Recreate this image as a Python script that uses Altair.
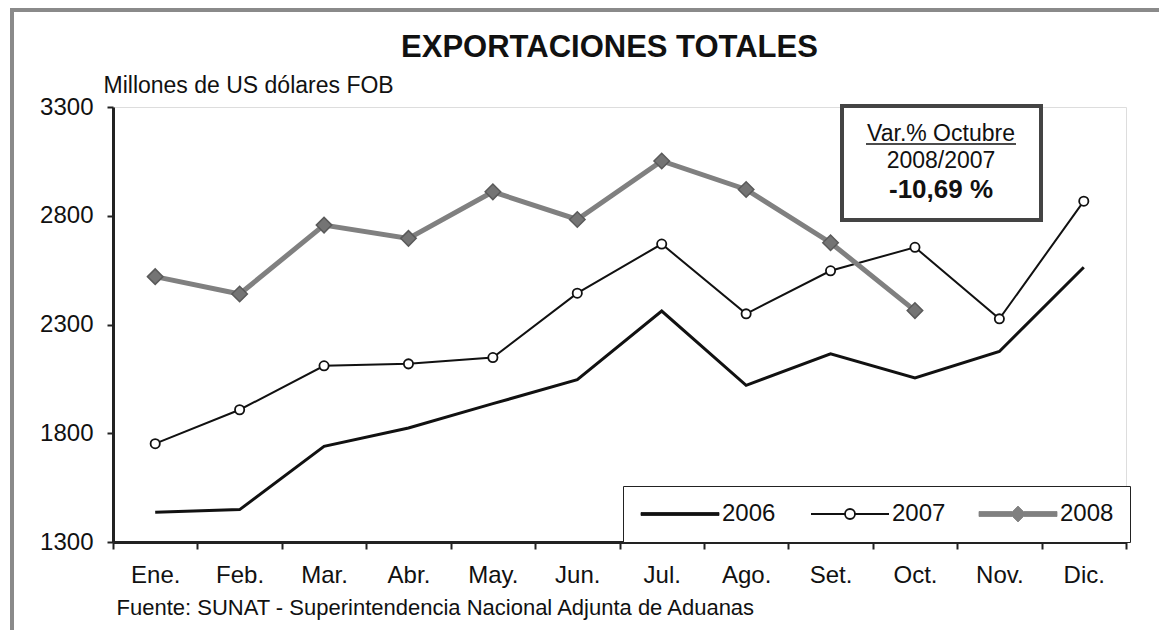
import altair as alt
import pandas as pd

months = ["Ene.", "Feb.", "Mar.", "Abr.", "May.", "Jun.", "Jul.", "Ago.", "Set.", "Oct.", "Nov.", "Dic."]
exp_2006 = [1437, 1449, 1740, 1824, 1936, 2046, 2362, 2020, 2165, 2054, 2176, 2563]
exp_2007 = [1752, 1908, 2110, 2119, 2148, 2444, 2670, 2349, 2547, 2655, 2326, 2867]
exp_2008 = [2520, 2440, 2757, 2696, 2910, 2783, 3052, 2921, 2676, 2364]
years = ["2006", "2007", "2008"]
y_ticks = [1300, 1800, 2300, 2800, 3300]

rows = []
for yr, vals in zip(years, [exp_2006, exp_2007, exp_2008]):
    for m, v in zip(months, vals):
        rows.append({"mes": m, "valor": v, "anio": yr})
df = pd.DataFrame(rows)

FONT = "Liberation Sans"

x_enc = alt.X("mes:N", sort=months,
              scale=alt.Scale(type="band", paddingInner=0, paddingOuter=0),
              axis=alt.Axis(title="Fuente: SUNAT - Superintendencia Nacional Adjunta de Aduanas",
                            titleX=3, titleY=72, titleAlign="left", titleBaseline="alphabetic",
                            titleFontSize=22, titleFontWeight="normal", titleFont=FONT,
                            titleColor="#111",
                            labelAngle=0, labelFontSize=24, labelFont=FONT, labelColor="#111",
                            labelPadding=14, tickSize=7, tickBand="extent",
                            tickColor="#222", tickWidth=2,
                            domainColor="#222", domainWidth=3, grid=False))
y_enc = alt.Y("valor:Q",
              scale=alt.Scale(domain=[1300, 3300], nice=False, zero=False),
              axis=alt.Axis(values=y_ticks, format="d", title="Millones de US dólares FOB",
                            titleAngle=0, titleAlign="left", titleBaseline="alphabetic",
                            titleX=-10, titleY=-15, titleFontSize=23, titleFontWeight="normal",
                            titleFont=FONT, titleColor="#111",
                            labelFontSize=24, labelFont=FONT, labelColor="#111",
                            labelPadding=14, tickSize=6, tickColor="#222", tickWidth=2,
                            domainColor="#222", domainWidth=3, grid=False))

# custom legend symbols (line + marker) drawn as outlines with thin strokes
shape_expr = ("datum.value === '2006' ? 'M-1,-0.15L6.8,-0.15L6.8,0.15L-1,0.15Z' : "
              "datum.value === '2007' ? 'M-1,0L2.4,0M3.4,0L6.8,0M3.4,0A0.5,0.5,0,1,1,2.4,0A0.5,0.5,0,1,1,3.4,0Z' : "
              "'M-1,-0.25L2.35,-0.25L2.9,-0.8L3.45,-0.25L6.8,-0.25L6.8,0.25L3.45,0.25L2.9,0.8L2.35,0.25L-1,0.25Z'")
legend = alt.Legend(
    orient="none", legendX=510, legendY=379, direction="horizontal", title=None,
    labelFontSize=24, labelFont=FONT, labelColor="#111", symbolSize=400,
    labelOffset=59, columnPadding=31, padding=16, strokeColor="#222",
    fillColor="white",
    symbolType=alt.ExprRef(expr=shape_expr),
    symbolFillColor=alt.ExprRef(expr="datum.value === '2007' ? '#ffffff' : datum.value === '2008' ? '#808080' : '#111111'"),
    symbolStrokeWidth=alt.ExprRef(expr="datum.value === '2007' ? 1.8 : 0.8"),
    symbolOpacity=1,
)
color_enc = alt.Color("anio:N", scale=alt.Scale(domain=years, range=["#111111", "#111111", "#808080"]),
                      legend=legend)

base = alt.Chart(df)

line06 = base.transform_filter(alt.datum.anio == "2006").mark_line(strokeWidth=3).encode(
    x=x_enc, y=y_enc, color=color_enc)
line07 = base.transform_filter(alt.datum.anio == "2007").mark_line(strokeWidth=2).encode(
    x=x_enc, y=y_enc, color=color_enc)
line08 = base.transform_filter(alt.datum.anio == "2008").mark_line(strokeWidth=5).encode(
    x=x_enc, y=y_enc, color=color_enc)

pts07 = base.transform_filter(alt.datum.anio == "2007").mark_point(
    shape="circle", filled=True, fill="white", stroke="#111", strokeWidth=1.8, size=85, opacity=1
).encode(x=x_enc, y=y_enc)

pts08 = base.transform_filter(alt.datum.anio == "2008").mark_point(
    shape="diamond", filled=True, fill="#747474", stroke="#5a5a5a", strokeWidth=1.5, size=240, opacity=1
).encode(x=x_enc, y=y_enc)

frame = alt.Chart(pd.DataFrame({"k": [0]})).mark_rect(
    fill=None, stroke="#8a8a8a", strokeWidth=4
).encode(x=alt.value(-101), x2=alt.value(1200), y=alt.value(-97), y2=alt.value(800))

box = alt.Chart(pd.DataFrame({"k": [0]})).mark_rect(
    fill="white", stroke="#444", strokeWidth=4
).encode(x=alt.value(729), x2=alt.value(928), y=alt.value(-1), y2=alt.value(113))

t1 = alt.Chart(pd.DataFrame({"t": ["Var.% Octubre"]})).mark_text(
    font=FONT, fontSize=23, color="#111", align="center", baseline="alphabetic"
).encode(text="t:N", x=alt.value(828), y=alt.value(34))
u1 = alt.Chart(pd.DataFrame({"k": [0]})).mark_rule(color="#111", strokeWidth=1.5).encode(
    x=alt.value(753), x2=alt.value(903), y=alt.value(37))
t2 = alt.Chart(pd.DataFrame({"t": ["2008/2007"]})).mark_text(
    font=FONT, fontSize=23, color="#111", align="center", baseline="alphabetic"
).encode(text="t:N", x=alt.value(828), y=alt.value(61))
t3 = alt.Chart(pd.DataFrame({"t": ["-10,69 %"]})).mark_text(
    font=FONT, fontSize=26, fontWeight="bold", color="#111", align="center", baseline="alphabetic"
).encode(text="t:N", x=alt.value(828), y=alt.value(91))

chart = alt.layer(frame, line06, line07, line08, pts07, pts08, box, t1, u1, t2, t3).properties(
    width=1013, height=435,
    title=alt.Title("EXPORTACIONES TOTALES", fontSize=31, font=FONT, fontWeight="bold",
                    anchor="middle", dx=-10, dy=70, offset=14, color="#111"),
    autosize=alt.AutoSizeParams(type="none"),
    padding={"left": 105, "top": 99, "right": 33, "bottom": 88},
).configure_view(stroke="#9a9a9a", strokeWidth=3).configure(background="white")

chart.save("out.html", embed_options={"renderer": "svg", "actions": False})
